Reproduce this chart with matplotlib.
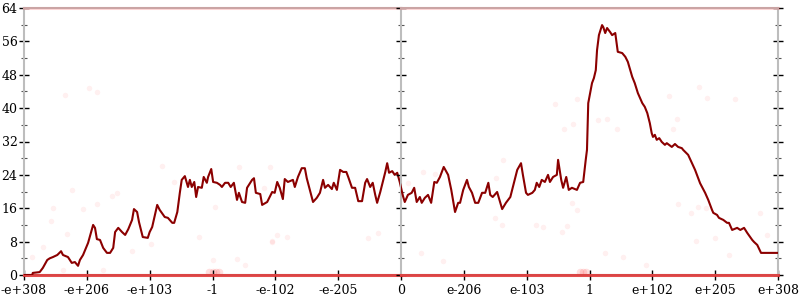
from matplotlib import pyplot as plt
from matplotlib.ticker import MultipleLocator, FixedLocator

# x positions are in tick units: 0 = -e+308 ... 6 = 0 ... 12 = e+308
tick_labels = ["-e+308", "-e+206", "-e+103", "-1", "-e-102", "-e-205", "0",
               "e-206", "e-103", "1", "e+102", "e+205", "e+308"]

line_x = [0.00, 0.13, 0.14, 0.25, 0.30, 0.37, 0.41, 0.46, 0.53, 0.59, 0.62, 0.70, 0.76, 0.81, 0.86, 0.89,
          0.94, 1.02, 1.10, 1.13, 1.16, 1.21, 1.26, 1.32, 1.37, 1.42, 1.45, 1.50, 1.56, 1.61, 1.66, 1.72,
          1.75, 1.80, 1.83, 1.89, 1.97, 2.00, 2.04, 2.12, 2.16, 2.24, 2.29, 2.36, 2.39, 2.44, 2.48, 2.51,
          2.56, 2.61, 2.64, 2.67, 2.71, 2.74, 2.77, 2.83, 2.86, 2.91, 2.93, 2.98, 3.01, 3.07, 3.12, 3.15,
          3.20, 3.25, 3.29, 3.34, 3.39, 3.42, 3.47, 3.52, 3.55, 3.63, 3.66, 3.69, 3.76, 3.79, 3.87, 3.95,
          3.99, 4.03, 4.07, 4.12, 4.15, 4.20, 4.28, 4.31, 4.36, 4.42, 4.47, 4.50, 4.55, 4.60, 4.66, 4.71,
          4.76, 4.79, 4.84, 4.90, 4.93, 4.98, 5.03, 5.08, 5.13, 5.16, 5.22, 5.27, 5.32, 5.38, 5.43, 5.46,
          5.51, 5.55, 5.59, 5.62, 5.67, 5.71, 5.75, 5.78, 5.81, 5.86, 5.90, 5.94, 5.98, 6.03, 6.06, 6.11,
          6.17, 6.21, 6.25, 6.30, 6.33, 6.38, 6.43, 6.48, 6.53, 6.57, 6.62, 6.68, 6.75, 6.80, 6.86, 6.91,
          6.94, 6.99, 7.05, 7.08, 7.13, 7.18, 7.23, 7.29, 7.34, 7.39, 7.42, 7.46, 7.53, 7.61, 7.67, 7.74,
          7.78, 7.85, 7.91, 7.94, 7.99, 8.02, 8.09, 8.13, 8.16, 8.20, 8.24, 8.29, 8.34, 8.37, 8.42, 8.48,
          8.50, 8.55, 8.58, 8.63, 8.67, 8.72, 8.80, 8.85, 8.90, 8.94, 8.96, 8.98, 9.04, 9.07, 9.10, 9.12,
          9.15, 9.20, 9.22, 9.25, 9.28, 9.33, 9.36, 9.41, 9.45, 9.52, 9.57, 9.61, 9.68, 9.72, 9.77, 9.84,
          9.88, 9.92, 9.96, 9.99, 10.01, 10.04, 10.07, 10.11, 10.15, 10.20, 10.23, 10.31, 10.36, 10.41,
          10.47, 10.49, 10.57, 10.68, 10.76, 10.84, 10.89, 10.95, 10.97, 11.03, 11.06, 11.13, 11.19,
          11.22, 11.27, 11.35, 11.40, 11.46, 11.51, 11.59, 11.62, 11.67, 11.73, 11.83, 12.00]
line_y = [0.0, 0.0, 0.5, 0.7, 1.7, 3.6, 4.0, 4.3, 4.8, 5.7, 4.8, 4.3, 2.9, 3.1, 2.2, 3.6,
          4.8, 7.7, 12.0, 11.3, 8.6, 8.4, 6.5, 5.3, 5.3, 6.5, 10.3, 11.3, 10.3, 9.6, 11.0, 13.2,
          15.8, 15.1, 12.7, 9.1, 8.9, 10.3, 11.5, 16.8, 15.6, 13.9, 13.7, 12.5, 12.5, 15.1, 19.7, 22.8,
          23.7, 21.1, 22.8, 21.1, 22.3, 18.7, 21.1, 20.9, 23.5, 22.1, 23.5, 25.4, 22.3, 22.1, 21.6, 21.1,
          22.1, 22.1, 21.1, 22.1, 18.0, 19.7, 17.5, 17.3, 20.9, 22.8, 23.2, 19.7, 19.4, 16.8, 17.5, 19.9,
          19.7, 22.3, 20.9, 18.2, 23.0, 22.3, 22.8, 21.1, 23.5, 25.6, 25.6, 23.2, 20.4, 17.5, 18.5, 19.7,
          22.8, 20.9, 21.6, 20.6, 22.1, 20.4, 25.2, 24.7, 24.7, 23.5, 20.9, 20.9, 17.7, 17.7, 22.1, 23.0,
          21.1, 22.1, 19.2, 17.3, 19.9, 22.3, 24.7, 26.8, 24.5, 24.9, 24.0, 24.5, 22.3, 19.0, 17.5, 19.2,
          19.7, 20.9, 17.5, 18.7, 17.3, 18.5, 19.2, 17.3, 22.3, 22.1, 23.5, 25.9, 24.0, 20.4, 15.1, 17.3,
          17.3, 20.4, 22.8, 21.1, 19.7, 17.3, 17.3, 19.7, 19.7, 22.1, 19.2, 18.7, 19.9, 15.8, 17.3, 18.7,
          21.1, 25.2, 26.8, 24.0, 19.7, 19.2, 19.7, 20.4, 22.1, 21.1, 22.8, 22.3, 24.0, 22.3, 23.5, 24.0,
          27.6, 22.8, 20.9, 23.5, 20.4, 20.9, 20.4, 22.1, 22.3, 27.6, 30.0, 41.2, 46.0, 47.2, 49.1, 53.9,
          57.5, 59.9, 59.4, 58.0, 59.2, 58.2, 57.5, 58.0, 53.5, 53.2, 52.3, 51.1, 47.5, 46.0, 43.6, 41.2,
          40.3, 38.8, 36.4, 34.0, 33.1, 33.6, 32.4, 32.8, 31.9, 31.2, 31.6, 30.7, 31.4, 30.7,
          30.4, 30.0, 28.8, 25.2, 22.0, 19.7, 18.0, 15.6, 14.9, 14.4, 13.7, 13.2, 12.5,
          12.5, 10.8, 11.3, 10.8, 11.3, 10.1, 8.4, 7.9, 7.2, 5.3, 5.3, 5.3]

# faint scattered samples
dots_x = [0.65, 1.03, 1.16, 0.76, 0.46, 0.43, 0.94, 1.16, 1.40, 1.48, 0.30, 0.13, 0.68, 1.72, 1.26, 0.62,
          3.01, 3.39, 3.04, 4.03, 3.95, 4.19, 5.63, 5.48, 3.52, 6.32, 6.67, 7.50, 7.61, 8.15, 8.26, 8.56,
          8.64, 8.72, 8.80, 9.25, 9.53, 9.90, 10.41, 10.62, 10.73, 10.85, 10.70, 11.00, 11.22, 11.71,
          11.83, 8.45, 8.80, 8.59, 8.74, 9.14, 9.28, 9.44, 10.27, 10.39, 10.33, 10.74, 10.87, 11.32,
          2.20, 2.39, 3.42, 3.92, 3.82, 2.79, 2.02, 3.95, 7.62, 6.35, 6.54, 6.11, 7.51]
dots_y = [43.1, 44.8, 43.9, 20.4, 16.1, 12.9, 15.8, 17.0, 18.9, 19.7, 6.7, 4.3, 9.8, 5.8, 1.2, 1.2,
          3.6, 3.8, 16.3, 9.6, 7.9, 9.1, 10.1, 8.9, 2.4, 5.3, 3.4, 13.7, 12.0, 12.0, 11.5, 10.3,
          11.7, 17.3, 15.6, 5.3, 4.3, 2.4, 17.0, 14.9, 16.3, 16.1, 8.1, 8.9, 4.8, 14.9,
          9.6, 41.0, 42.2, 35.0, 36.2, 37.2, 37.4, 35.0, 42.9, 37.4, 35.0, 45.1, 42.4, 42.2,
          26.1, 22.3, 25.9, 25.9, 20.9, 9.1, 7.4, 8.1, 27.6, 24.7, 24.2, 22.1, 23.2]
# denser clusters on the zero line
cluster_x = [2.95, 3.0, 3.05, 3.1, 8.85, 8.9, 8.95]
cluster_y = [0.6, 0.6, 0.6, 0.6, 0.8, 0.8, 0.8]
band_levels = [0, 64]

plt.rcParams["font.family"] = "DejaVu Serif"
plt.rcParams["font.size"] = 9

fig = plt.figure(figsize=(8, 3), dpi=100)
x0, x1, xm = 24 / 800, 778 / 800, 401 / 800
y0, y1 = 25 / 300, 292 / 300
ax1 = fig.add_axes([x0, y0, xm - x0, y1 - y0])
ax2 = fig.add_axes([xm, y0, x1 - xm, y1 - y0])

gray = "#bdbdbd"
for ax, lo, hi in [(ax1, 0, 6), (ax2, 6, 12)]:
    ax.scatter(dots_x, dots_y, s=16, color="red", alpha=0.06, lw=0, zorder=1)
    ax.scatter(cluster_x, cluster_y, s=30, color="red", alpha=0.12, lw=0, zorder=1)
    ax.axhline(band_levels[0], color="#e03030", lw=2.2, alpha=0.85, zorder=2.6, clip_on=False)
    ax.axhline(band_levels[1], color="#ff4040", lw=2.2, alpha=0.2, zorder=2.6, clip_on=False)
    ax.plot(line_x, line_y, color="#8b0000", lw=1.5, zorder=3)
    ax.set_xlim(lo, hi)
    ax.set_ylim(0, 64)
    for s in ax.spines.values():
        s.set_color(gray)
        s.set_linewidth(1.5)
    ax.yaxis.set_major_locator(MultipleLocator(8))
    ax.yaxis.set_minor_locator(MultipleLocator(4))
    ax.tick_params(axis="both", which="major", direction="inout", length=7.5, width=1,
                   color="black", pad=1)
    ax.tick_params(axis="y", which="minor", direction="inout", length=4.5, width=0.8,
                   color="#555555")

ax1.spines["right"].set_visible(False)
ax1.xaxis.set_major_locator(FixedLocator(range(0, 7)))
ax1.set_xticklabels(tick_labels[:7])
ax1.tick_params(axis="x", pad=3)

ax2.xaxis.set_major_locator(FixedLocator(range(7, 13)))
ax2.set_xticklabels(tick_labels[7:])
ax2.tick_params(axis="x", pad=3)
ax2.tick_params(axis="y", which="both", left=True, right=True, labelleft=False)

fig.savefig("out.png", dpi=100)
